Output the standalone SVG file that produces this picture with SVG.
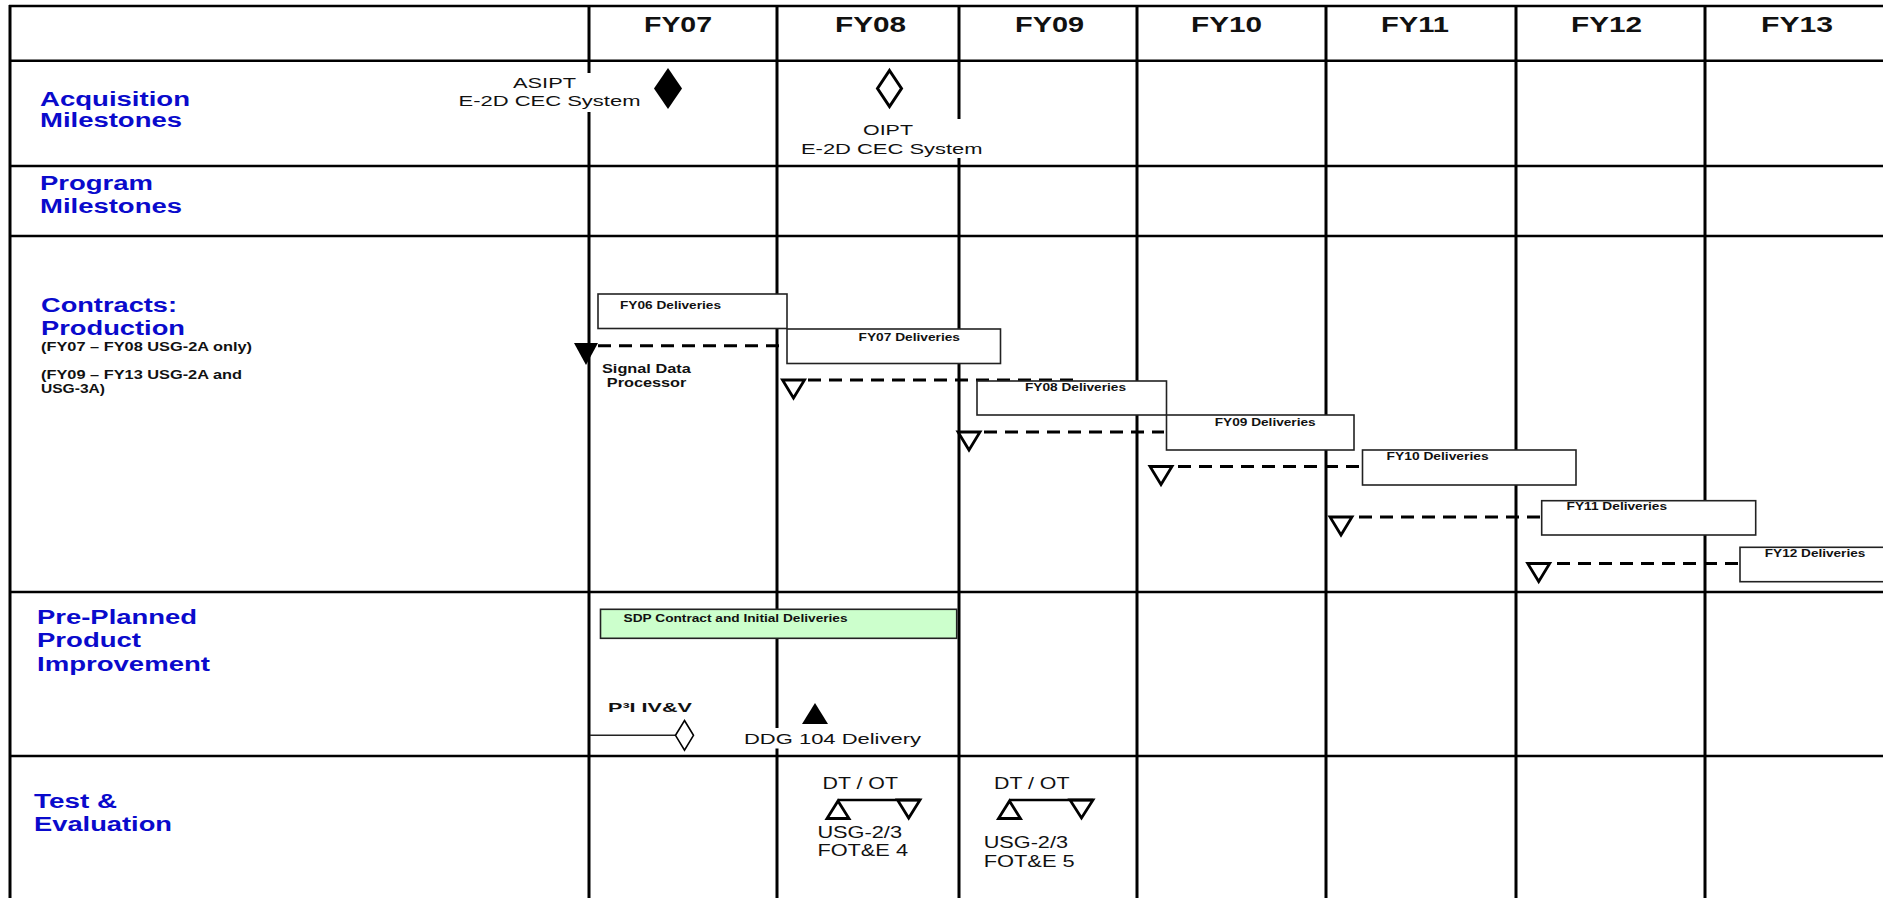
<svg xmlns="http://www.w3.org/2000/svg" width="1883" height="898" viewBox="0 0 1883 898">
<style>
text{font-family:"Liberation Sans",Arial,sans-serif;}
.hdr{font-size:21.5px;font-weight:bold;fill:#111;}
.lbl{font-size:20px;font-weight:bold;fill:#0a0acc;}
.sub{font-size:12.5px;font-weight:bold;fill:#111;}
.dl{font-size:10px;font-weight:bold;fill:#111;}
.ms{font-size:15.5px;fill:#111;}
.te{font-size:16.5px;fill:#111;}
.gv{stroke:#000;stroke-width:3;}
.gh{stroke:#000;stroke-width:2.6;}
.box{fill:#fff;stroke:#222;stroke-width:1.6;}
.dash{stroke:#000;stroke-width:3;stroke-dasharray:13 8;fill:none;}
.tri{fill:#fff;stroke:#000;stroke-width:2.8;stroke-linejoin:miter;}
.bg{fill:#fff;}
</style>

<g id="grid">
  <line class="gh" x1="9" y1="6" x2="1883" y2="6"/>
  <line class="gh" x1="9" y1="60.7" x2="1883" y2="60.7"/>
  <line class="gh" x1="9" y1="166" x2="1883" y2="166"/>
  <line class="gh" x1="9" y1="236" x2="1883" y2="236"/>
  <line class="gh" x1="9" y1="592" x2="1883" y2="592"/>
  <line class="gh" x1="9" y1="756" x2="1883" y2="756"/>
  <line class="gv" x1="10" y1="5" x2="10" y2="898"/>
  <line class="gv" x1="589" y1="5" x2="589" y2="898"/>
  <line class="gv" x1="777" y1="5" x2="777" y2="898"/>
  <line class="gv" x1="959" y1="5" x2="959" y2="898"/>
  <line class="gv" x1="1137" y1="5" x2="1137" y2="898"/>
  <line class="gv" x1="1326" y1="5" x2="1326" y2="898"/>
  <line class="gv" x1="1516" y1="5" x2="1516" y2="898"/>
  <line class="gv" x1="1705" y1="5" x2="1705" y2="898"/>
</g>

<g id="header">
  <text class="hdr" x="644" y="31.7" textLength="68" lengthAdjust="spacingAndGlyphs">FY07</text>
  <text class="hdr" x="835" y="31.7" textLength="71" lengthAdjust="spacingAndGlyphs">FY08</text>
  <text class="hdr" x="1015" y="31.7" textLength="69" lengthAdjust="spacingAndGlyphs">FY09</text>
  <text class="hdr" x="1191" y="31.7" textLength="71" lengthAdjust="spacingAndGlyphs">FY10</text>
  <text class="hdr" x="1381" y="31.7" textLength="68" lengthAdjust="spacingAndGlyphs">FY11</text>
  <text class="hdr" x="1571" y="31.7" textLength="71" lengthAdjust="spacingAndGlyphs">FY12</text>
  <text class="hdr" x="1761" y="31.7" textLength="72" lengthAdjust="spacingAndGlyphs">FY13</text>
</g>

<g id="row-labels">
  <text class="lbl" x="40" y="106" textLength="150" lengthAdjust="spacingAndGlyphs">Acquisition</text>
  <text class="lbl" x="40" y="126.7" textLength="142" lengthAdjust="spacingAndGlyphs">Milestones</text>
  <text class="lbl" x="40" y="190" textLength="113" lengthAdjust="spacingAndGlyphs">Program</text>
  <text class="lbl" x="40" y="213.3" textLength="142" lengthAdjust="spacingAndGlyphs">Milestones</text>
  <text class="lbl" x="41" y="312" textLength="136" lengthAdjust="spacingAndGlyphs">Contracts:</text>
  <text class="lbl" x="41" y="335" textLength="144" lengthAdjust="spacingAndGlyphs">Production</text>
  <text class="sub" x="41" y="351" textLength="211" lengthAdjust="spacingAndGlyphs">(FY07 – FY08 USG-2A only)</text>
  <text class="sub" x="41" y="379" textLength="201" lengthAdjust="spacingAndGlyphs">(FY09 – FY13 USG-2A and</text>
  <text class="sub" x="41" y="392.5" textLength="64" lengthAdjust="spacingAndGlyphs">USG-3A)</text>
  <text class="lbl" x="37" y="624.3" textLength="160" lengthAdjust="spacingAndGlyphs">Pre-Planned</text>
  <text class="lbl" x="37" y="647.3" textLength="104" lengthAdjust="spacingAndGlyphs">Product</text>
  <text class="lbl" x="37" y="670.7" textLength="173" lengthAdjust="spacingAndGlyphs">Improvement</text>
  <text class="lbl" x="34" y="808.3" textLength="83" lengthAdjust="spacingAndGlyphs">Test &amp;</text>
  <text class="lbl" x="34" y="831" textLength="138" lengthAdjust="spacingAndGlyphs">Evaluation</text>
</g>

<g id="asipt">
  <rect class="bg" x="455" y="73" width="189" height="39"/>
  <text class="ms" x="513" y="88.3" textLength="63" lengthAdjust="spacingAndGlyphs">ASIPT</text>
  <text class="ms" x="458.5" y="106" textLength="182" lengthAdjust="spacingAndGlyphs">E-2D CEC System</text>
  <polygon points="668,68 682,88.5 668,109 654,88.5" fill="#000"/>
</g>

<g id="oipt">
  <rect class="bg" x="797" y="119" width="189" height="39"/>
  <polygon points="889.5,70.5 901.5,88.5 889.5,106.5 877.5,88.5" fill="#fff" stroke="#000" stroke-width="3"/>
  <text class="ms" x="863" y="135" textLength="50" lengthAdjust="spacingAndGlyphs">OIPT</text>
  <text class="ms" x="801" y="154" textLength="181.5" lengthAdjust="spacingAndGlyphs">E-2D CEC System</text>
</g>

<g id="connectors">
  <line class="dash" x1="598" y1="345.7" x2="784" y2="345.7"/>
  <line class="dash" x1="808" y1="380" x2="1073" y2="380"/>
  <line class="dash" x1="984" y1="432" x2="1164" y2="432"/>
  <line class="dash" x1="1178" y1="466.5" x2="1362" y2="466.5"/>
  <line class="dash" x1="1359" y1="517" x2="1541" y2="517"/>
  <line class="dash" x1="1557" y1="563.5" x2="1740" y2="563.5"/>
  <line x1="590" y1="735.3" x2="675" y2="735.3" stroke="#222" stroke-width="1.4"/>
  <line x1="838" y1="800" x2="920" y2="800" stroke="#000" stroke-width="2.6"/>
  <line x1="1009.5" y1="800" x2="1093" y2="800" stroke="#000" stroke-width="2.6"/>
</g>

<g id="fy06-deliveries">
  <rect class="box" x="598" y="294" width="189" height="34.5"/>
  <text class="dl" x="620" y="309" textLength="101" lengthAdjust="spacingAndGlyphs">FY06 Deliveries</text>
</g>
<g id="fy07-deliveries">
  <rect class="box" x="787" y="329" width="213.5" height="34.5"/>
  <text class="dl" x="858.5" y="340.5" textLength="101.5" lengthAdjust="spacingAndGlyphs">FY07 Deliveries</text>
</g>
<g id="fy08-deliveries">
  <rect class="box" x="977" y="381" width="189.5" height="34"/>
  <text class="dl" x="1025" y="390.5" textLength="101" lengthAdjust="spacingAndGlyphs">FY08 Deliveries</text>
</g>
<g id="fy09-deliveries">
  <rect class="box" x="1166.5" y="415" width="187.5" height="35"/>
  <text class="dl" x="1214.7" y="425.5" textLength="101" lengthAdjust="spacingAndGlyphs">FY09 Deliveries</text>
</g>
<g id="fy10-deliveries">
  <rect class="box" x="1362.5" y="450" width="213.5" height="35"/>
  <text class="dl" x="1386.6" y="460" textLength="102" lengthAdjust="spacingAndGlyphs">FY10 Deliveries</text>
</g>
<g id="fy11-deliveries">
  <rect class="box" x="1541.7" y="500.7" width="214" height="34.3"/>
  <text class="dl" x="1566.6" y="510" textLength="100.5" lengthAdjust="spacingAndGlyphs">FY11 Deliveries</text>
</g>
<g id="fy12-deliveries">
  <rect class="box" x="1740" y="547.3" width="160" height="34.4"/>
  <text class="dl" x="1764.8" y="557" textLength="100.5" lengthAdjust="spacingAndGlyphs">FY12 Deliveries</text>
</g>

<g id="sdp">
  <polygon points="574,343 598,343 586,365" fill="#000"/>
  <text class="sub" x="602" y="372.7" textLength="88.7" lengthAdjust="spacingAndGlyphs" style="font-size:12px">Signal Data</text>
  <text class="sub" x="606.8" y="386.7" textLength="79.6" lengthAdjust="spacingAndGlyphs" style="font-size:12px">Processor</text>
</g>

<g id="delivery-triangles">
  <polygon class="tri" points="782.5,380 804.5,380 793.5,398"/>
  <polygon class="tri" points="958,432 980,432 969,450"/>
  <polygon class="tri" points="1150,466.5 1172,466.5 1161,484.5"/>
  <polygon class="tri" points="1330,517 1352,517 1341,535"/>
  <polygon class="tri" points="1527.7,563.5 1549.7,563.5 1538.7,581.5"/>
</g>

<g id="sdp-contract">
  <rect x="600.5" y="609.3" width="356.2" height="29" fill="#ccffcc" stroke="#222" stroke-width="1.6"/>
  <text class="dl" x="623.6" y="622" textLength="224" lengthAdjust="spacingAndGlyphs">SDP Contract and Initial Deliveries</text>
</g>

<g id="p3i">
  <text class="sub" x="608" y="712" textLength="84" lengthAdjust="spacingAndGlyphs" style="font-size:13.5px">P³I IV&amp;V</text>
  <polygon points="684.5,720.5 693.5,735.3 684.5,750.2 675.5,735.3" fill="#fff" stroke="#000" stroke-width="1.6"/>
</g>

<g id="ddg104">
  <rect class="bg" x="742" y="728" width="182" height="20.5"/>
  <polygon points="815,703 828,724 802,724" fill="#000"/>
  <text class="ms" x="744" y="744" textLength="177" lengthAdjust="spacingAndGlyphs">DDG 104 Delivery</text>
</g>

<g id="fote4">
  <text class="te" x="822.5" y="789" textLength="75.5" lengthAdjust="spacingAndGlyphs">DT / OT</text>
  <polygon class="tri" points="838,801 849,818.5 827,818.5" style="fill:none"/>
  <polygon class="tri" points="897.5,800 920,800 908.7,818" style="fill:none"/>
  <text class="te" x="817.4" y="838" textLength="84.6" lengthAdjust="spacingAndGlyphs">USG-2/3</text>
  <text class="te" x="817.4" y="856" textLength="90.6" lengthAdjust="spacingAndGlyphs">FOT&amp;E 4</text>
</g>

<g id="fote5">
  <text class="te" x="994" y="789" textLength="75.5" lengthAdjust="spacingAndGlyphs">DT / OT</text>
  <polygon class="tri" points="1009.5,801 1020.5,818.5 998.5,818.5" style="fill:none"/>
  <polygon class="tri" points="1070,800 1093,800 1081.5,818" style="fill:none"/>
  <text class="te" x="983.7" y="848" textLength="84.3" lengthAdjust="spacingAndGlyphs">USG-2/3</text>
  <text class="te" x="983.7" y="866.7" textLength="91" lengthAdjust="spacingAndGlyphs">FOT&amp;E 5</text>
</g>
</svg>
